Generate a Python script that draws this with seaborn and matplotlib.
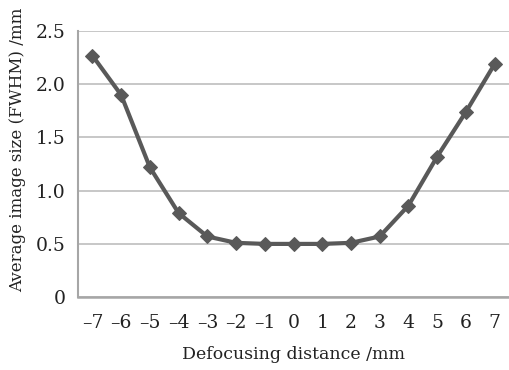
import numpy as np
import pandas as pd
import matplotlib
matplotlib.use("Agg")
import matplotlib.pyplot as plt
import seaborn as sns

# defocus positions (mm) and measured spot size FWHM (mm)
defocus = [-7, -6, -5, -4, -3, -2, -1, 0, 1, 2, 3, 4, 5, 6, 7]
fwhm = [2.27, 1.90, 1.22, 0.79, 0.57, 0.51, 0.50, 0.50, 0.50, 0.51, 0.57, 0.86, 1.32, 1.74, 2.19]
xlabels = ["\u20137", "\u20136", "\u20135", "\u20134", "\u20133", "\u20132", "\u20131",
           "0", "1", "2", "3", "4", "5", "6", "7"]
yticks = [0, 0.5, 1.0, 1.5, 2.0, 2.5]
ylabels = ["0", "0.5", "1.0", "1.5", "2.0", "2.5"]

sns.set_style("white")
plt.rcParams['font.family'] = ['DejaVu Serif']

df = pd.DataFrame({"pos": np.arange(len(defocus)), "fwhm": fwhm})

fig = plt.figure(figsize=(5.1, 3.7), dpi=100)
ax = fig.add_axes([0.153, 0.197, 0.845, 0.719])

sns.lineplot(data=df, x="pos", y="fwhm", ax=ax, color="#595959", lw=3.0,
             marker="D", markersize=7, markeredgecolor="#595959")

ax.set_xlim(-0.5, len(defocus) - 0.5)
ax.set_ylim(0, 2.5)
ax.set_xticks(np.arange(len(defocus)))
ax.set_xticklabels(xlabels)
ax.set_yticks(yticks)
ax.set_yticklabels(ylabels)
ax.tick_params(axis="both", length=0, labelsize=13.5, colors="#222222")
ax.tick_params(axis="x", pad=12)
ax.tick_params(axis="y", pad=9)
ax.grid(axis="y", color="#bdbdbd", lw=1.2)
ax.set_axisbelow(True)

for s in ["top", "right"]:
    ax.spines[s].set_visible(False)
ax.spines["left"].set_color("#a6a6a6")
ax.spines["left"].set_linewidth(1.5)
ax.spines["bottom"].set_color("#a6a6a6")
ax.spines["bottom"].set_linewidth(1.8)

ax.set_xlabel("Defocusing distance /mm", fontsize=12.5, color="#222222")
ax.set_ylabel("Average image size (FWHM) /mm", fontsize=12, color="#222222")
ax.xaxis.set_label_coords(0.5, -0.185)
ax.yaxis.set_label_coords(-0.12, 0.555)

fig.savefig("out.png", dpi=100)
